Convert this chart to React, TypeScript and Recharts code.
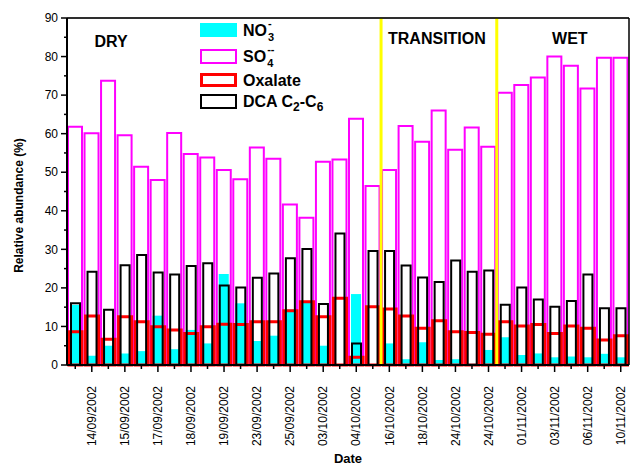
import React from 'react';
import { BarChart, Bar, XAxis, YAxis, CartesianGrid, ReferenceLine, ReferenceArea, Legend } from 'recharts';

const FONT = '"Liberation Sans", Arial, sans-serif';

// one entry per sample, only every second sample carries a date label
const dateLabels = [
  '', '14/09/2002', '', '15/09/2002', '', '17/09/2002', '', '18/09/2002', '', '19/09/2002',
  '', '23/09/2002', '', '25/09/2002', '', '03/10/2002', '', '04/10/2002', '', '16/10/2002',
  '', '18/10/2002', '', '24/10/2002', '', '24/10/2002', '', '01/11/2002', '', '03/11/2002',
  '', '06/11/2002', '', '10/11/2002',
];

const no3 = [
  15.6, 2.4, 5.0, 3.0, 3.6, 12.8, 4.1, 9.1, 5.6, 23.6,
  16.0, 6.2, 7.6, 14.4, 16.2, 5.0, 0, 18.4, 0, 5.6,
  1.5, 5.9, 1.3, 1.5, 0.4, 3.9, 7.2, 2.6, 3.0, 2.0,
  2.2, 2.0, 2.9, 2.0,
];
const so4 = [
  61.8, 60.1, 73.7, 59.6, 51.4, 48.0, 60.2, 54.7, 53.8, 50.6,
  48.2, 56.4, 53.5, 41.6, 38.2, 52.7, 53.3, 63.9, 46.4, 50.6,
  62.0, 57.9, 66.0, 55.8, 61.6, 56.6, 70.6, 72.6, 74.6, 80.0,
  77.6, 71.7, 79.7, 79.7,
];
const oxalate = [
  8.6, 12.7, 6.7, 12.5, 11.2, 9.9, 9.1, 8.2, 9.9, 10.6,
  10.5, 11.2, 11.2, 14.1, 16.4, 12.5, 17.3, 2.0, 15.1, 14.5,
  12.7, 9.5, 11.5, 8.6, 8.4, 8.0, 11.2, 10.1, 10.5, 8.2,
  10.1, 9.5, 6.5, 7.6,
];
const dca = [
  16.0, 24.2, 14.3, 25.9, 28.5, 24.0, 23.5, 25.7, 26.4, 20.6,
  20.1, 22.6, 23.7, 27.7, 30.1, 15.8, 34.1, 5.6, 29.6, 29.6,
  25.8, 22.7, 21.5, 27.1, 24.2, 24.5, 15.6, 20.1, 17.0, 15.1,
  16.6, 23.5, 14.7, 14.7,
];

const yTicks = [0, 5, 10, 15, 20, 25, 30, 35, 40, 45, 50, 55, 60, 65, 70, 75, 80, 85, 90];
const gridTicks = [0, 10, 20, 30, 40, 50, 60, 70, 80, 90];

const seasons = [
  { name: 'DRY', from: 0, to: 19 },
  { name: 'TRANSITION', from: 19, to: 26 },
  { name: 'WET', from: 26, to: 34 },
];
// label placement tweaks (px) relative to the centre/top of each season band
const seasonLabelPos: Record<string, { dx: number; dy: number }> = {
  DRY: { dx: -113, dy: 28.5 },
  TRANSITION: { dx: -2, dy: 26.3 },
  WET: { dx: 7, dy: 26.3 },
};

const data = dateLabels.map((label, i) => ({
  idx: i,
  pos: i + 0.5,
  label,
  no3: no3[i],
  so4: so4[i],
  ox: oxalate[i],
  dca: dca[i],
}));

const DateTick = ({ x, y, payload }: any) => {
  const label = dateLabels[payload.value];
  const ty = y + 21;
  return (
    <g>
      <line x1={x} y1={y} x2={x} y2={y + (label ? 7 : 4)} stroke="#000" strokeWidth={1.5} />
      {label && (
        <text x={x} y={ty} transform={`rotate(-90 ${x} ${ty})`} textAnchor="end" dy="0.35em"
          fontSize={12} fontFamily={FONT} fill="#000">{label}</text>
      )}
    </g>
  );
};

const PercentTick = ({ x, y, payload }: any) => {
  const major = payload.value % 10 === 0;
  return (
    <g>
      <line x1={x} y1={y} x2={x - (major ? 6 : 3)} y2={y} stroke="#000" strokeWidth={1.5} />
      {major && (
        <text x={x - 9} y={y} dy="0.35em" textAnchor="end" fontSize={12} fontFamily={FONT} fill="#000">
          {payload.value}
        </text>
      )}
    </g>
  );
};

const seasonLabel = (name: string) => (props: any) => {
  const vb = props.viewBox;
  const p = seasonLabelPos[name];
  return (
    <text x={vb.x + vb.width / 2 + p.dx} y={vb.y + p.dy} textAnchor="middle"
      fontSize={16} fontWeight="bold" fontFamily={FONT} fill="#000">{name}</text>
  );
};

// subscript with a charge sign sitting directly above it
const Stacked = ({ sub, sup }: { sub: string; sup: string }) => (
  <span style={{ display: 'inline-block', position: 'relative', width: 10, height: 16, verticalAlign: 'top' }}>
    <span style={{ position: 'absolute', left: 1, top: 9, fontSize: 11, lineHeight: '11px' }}>{sub}</span>
    <span style={{ position: 'absolute', left: 1, top: -5, fontSize: 11, lineHeight: '11px' }}>{sup}</span>
  </span>
);

const Sub = ({ children }: { children: string }) => (
  <span style={{ fontSize: 12, position: 'relative', top: 4 }}>{children}</span>
);

const legendRows = [
  { key: 'no3', top: 0.7, fill: '#00ffff', border: 0, color: '#00ffff', label: <>NO<Stacked sub="3" sup="-" /></> },
  { key: 'so4', top: 27.3, fill: 'none', border: 2, color: '#ff00ff', label: <>SO<Stacked sub="4" sup="--" /></> },
  { key: 'ox', top: 50.7, fill: 'none', border: 3, color: '#ff0000', label: <>Oxalate</> },
  { key: 'dca', top: 72.3, fill: 'none', border: 2, color: '#000000', label: <>DCA C<Sub>2</Sub>-C<Sub>6</Sub></> },
];

const renderLegend = () => (
  <div style={{ position: 'relative', width: 200, height: 100, fontFamily: FONT, fontWeight: 'bold', fontSize: 16, color: '#000' }}>
    {legendRows.map((r) => (
      <div key={r.key} style={{ position: 'absolute', left: 0, top: r.top, whiteSpace: 'nowrap' }}>
        <div style={{
          position: 'absolute', left: 0, top: 0, width: 37, height: 14.5, boxSizing: 'border-box',
          background: r.fill === 'none' ? 'transparent' : r.fill,
          border: r.border ? `${r.border}px solid ${r.color}` : 'none',
        }} />
        <div style={{ position: 'absolute', left: 43, top: 0, lineHeight: '16px' }}>{r.label}</div>
      </div>
    ))}
  </div>
);

export default function App() {
  return (
    <div style={{ position: 'absolute', left: 0, top: 0, width: 630, height: 467, background: '#fff' }}>
      <BarChart width={630} height={467} data={data} margin={{ top: 17, right: 0, bottom: 0, left: 0 }}
        style={{ fontFamily: FONT }}>
        <CartesianGrid xAxisId="date" yAxisId="r" vertical={false} stroke="#a0a0a0" strokeWidth={1.5} />
        <XAxis xAxisId="date" dataKey="idx" interval={0} height={102} tick={<DateTick />} tickSize={0}
          tickMargin={0} tickLine={false} axisLine={{ stroke: '#000', strokeWidth: 2 }}
          label={(props: any) => {
            const vb = props.viewBox;
            return (
              <text x={vb.x + vb.width / 2} y={vb.y + vb.height - 4} textAnchor="middle" fontSize={13}
                fontWeight="bold" fontFamily={FONT} fill="#000">Date</text>
            );
          }} />
        <XAxis xAxisId="top" orientation="top" dataKey="idx" interval={0} height={1} tick={false} tickSize={3}
          axisLine={{ stroke: '#000', strokeWidth: 1.5 }} tickLine={{ stroke: '#000' }} />
        <XAxis xAxisId="so4" dataKey="idx" hide />
        <XAxis xAxisId="no3" dataKey="idx" hide />
        <XAxis xAxisId="ox" dataKey="idx" hide />
        <XAxis xAxisId="dca" dataKey="idx" hide />
        <XAxis xAxisId="num" type="number" dataKey="pos" domain={[0, 34]} allowDataOverflow hide />
        <YAxis domain={[0, 90]} ticks={yTicks} interval={0} width={67} tick={<PercentTick />} tickSize={0}
          tickMargin={0} tickLine={false} axisLine={{ stroke: '#000', strokeWidth: 2 }}
          label={(props: any) => {
            const vb = props.viewBox;
            const cx = vb.x + 19;
            const cy = vb.y + vb.height / 2 + 14;
            return (
              <text x={cx} y={cy} transform={`rotate(-90 ${cx} ${cy})`} textAnchor="middle" dy="0.35em"
                fontSize={12} fontWeight="bold" fontFamily={FONT} fill="#000">Relative abundance (%)</text>
            );
          }} />
        <YAxis yAxisId="r" orientation="right" domain={[0, 90]} ticks={gridTicks} width={1} tick={false}
          tickLine={false} axisLine={{ stroke: '#000', strokeWidth: 1.5 }} />
        <Legend layout="vertical" align="center" verticalAlign="middle" content={renderLegend}
          wrapperStyle={{ left: 200, top: 22, width: 200, height: 100 }} />
        <Bar xAxisId="so4" dataKey="so4" barSize={14} fill="none" stroke="#ff00ff" strokeWidth={2}
          isAnimationActive={false} />
        <Bar xAxisId="no3" dataKey="no3" barSize={10} fill="#00ffff" isAnimationActive={false} />
        <Bar xAxisId="ox" dataKey="ox" barSize={13} fill="none" stroke="#ff0000" strokeWidth={3}
          isAnimationActive={false} />
        <Bar xAxisId="dca" dataKey="dca" barSize={9} fill="none" stroke="#000000" strokeWidth={2}
          isAnimationActive={false} />
        {seasons.map((s) => (
          <ReferenceArea key={s.name} xAxisId="num" x1={s.from} x2={s.to} fill="none" stroke="none"
            label={seasonLabel(s.name)} />
        ))}
        {seasons.slice(1).map((s) => (
          <ReferenceLine key={s.name} xAxisId="num" x={s.from} stroke="#ffff00" strokeWidth={3} />
        ))}
      </BarChart>
    </div>
  );
}
